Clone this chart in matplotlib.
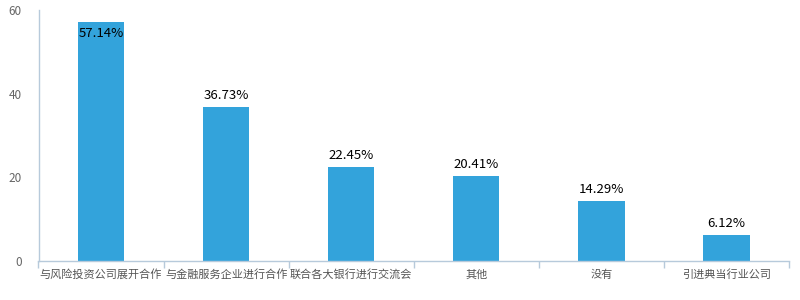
import matplotlib.pyplot as plt
import numpy as np

plt.rcParams['font.family'] = ['Noto Sans CJK SC', 'DejaVu Sans']

categories = ['与风险投资公司展开合作', '与金融服务企业进行合作', '联合各大银行进行交流会',
              '其他', '没有', '引进典当行业公司']
values = [57.14, 36.73, 22.45, 20.41, 14.29, 6.12]
yticks = [0, 20, 40, 60]

bar_color = '#33a3db'
axis_color = '#b7cadb'

fig = plt.figure(figsize=(8, 3), dpi=100)
ax = fig.add_axes([38.5 / 800, 39 / 300, 750.5 / 800, 251 / 300])

x = np.arange(len(categories))
ax.bar(x, values, width=0.37, color=bar_color, zorder=2)

ax.set_xlim(-0.5, len(categories) - 0.5)
ax.set_ylim(0, 60)

# value labels; the tallest one would hit the top, so it goes inside the bar
for xi, v in zip(x, values):
    if v > 55:
        ax.text(xi, v - 1.2, f'{v:.2f}%', ha='center', va='top', fontsize=9.5, color='#000000')
    else:
        ax.text(xi, v + 1.2, f'{v:.2f}%', ha='center', va='bottom', fontsize=9.5, color='#000000')

ax.set_yticks(yticks)
ax.set_yticklabels([str(t) for t in yticks], fontsize=8.5, color='#666666')
ax.tick_params(axis='y', length=0, pad=12)

# category ticks sit on the boundaries, labels at the centres
ax.set_xticks(np.arange(len(categories) + 1) - 0.5)
ax.set_xticklabels([])
ax.set_xticks(x, minor=True)
ax.set_xticklabels(categories, minor=True, fontsize=8, color='#555555')
ax.tick_params(axis='x', which='major', length=5, color=axis_color, width=1)
ax.tick_params(axis='x', which='minor', length=0, pad=6)

for side in ['top', 'right']:
    ax.spines[side].set_visible(False)
for side in ['left', 'bottom']:
    ax.spines[side].set_color(axis_color)
    ax.spines[side].set_linewidth(1)

fig.savefig('out.png', dpi=100)
